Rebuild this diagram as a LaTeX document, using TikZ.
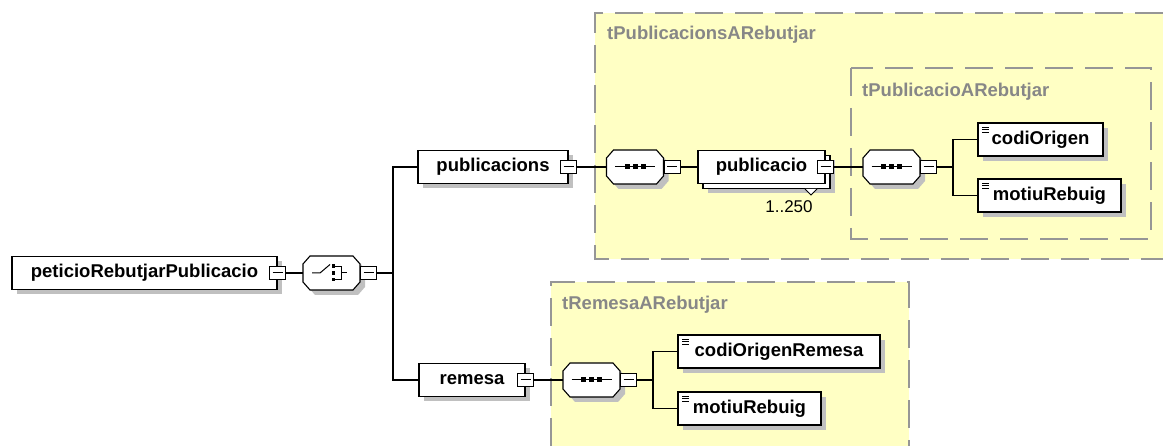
\documentclass[tikz,border=0pt]{standalone}
\usepackage{fontspec}
\setmainfont{Liberation Sans}
\usetikzlibrary{shadows}

\definecolor{regionfill}{RGB}{255,255,196}
\definecolor{regionline}{RGB}{150,150,150}
\definecolor{shadowgray}{RGB}{192,192,192}
\definecolor{titlegray}{RGB}{135,135,135}
\newcommand\elemfont{\bfseries\fontsize{18.5}{22}\selectfont}
% octagon outline of a compositor, with its shadow
\newcommand\compshape[2]{%
  \fill[shadowgray,shift={(#1+5,#2+5)}] (-21.5,-17) -- (21.5,-17) -- (28.5,-9) -- (28.5,9) -- (21.5,17) -- (-21.5,17) -- (-28.5,9) -- (-28.5,-9) -- cycle;
  \filldraw[fill=white,line width=1.1pt,shift={(#1,#2)}] (-21.5,-17) -- (21.5,-17) -- (28.5,-9) -- (28.5,9) -- (21.5,17) -- (-21.5,17) -- (-28.5,9) -- (-28.5,-9) -- cycle;}

\tikzset{
  link/.style={line width=1.1pt},
  region/.style={draw=regionline,line width=1.6pt,dash pattern=on 28pt off 12pt},
  title/.style={anchor=west,inner sep=0pt,text=titlegray,font=\elemfont},
  elembase/.style={draw=black,fill=white,line width=1.1pt,minimum height=33pt,inner sep=0pt,font=\elemfont},
  elem/.style={elembase,copy shadow={shadow xshift=5pt,shadow yshift=-5pt,fill=shadowgray,draw=none}},
  multielem/.style={elembase,
    copy shadow={shadow xshift=10pt,shadow yshift=-10pt,fill=shadowgray,draw=none},
    copy shadow={shadow xshift=5pt,shadow yshift=-5pt,fill=white,draw=black,line width=1.1pt}},
  simple/.style={elem,path picture={
    \foreach \k in {4,6.5,9}
      \draw[black,line width=0.8pt] ([shift={(4pt,-\k pt)}]path picture bounding box.north west) -- ++(7pt,0pt);}},
  minus/.style={draw=black,fill=white,line width=1pt,minimum width=16pt,minimum height=13pt,inner sep=0pt,
    path picture={\draw[black,line width=1pt] ([xshift=3pt]path picture bounding box.west) -- ([xshift=-3pt]path picture bounding box.east);}},
  comp/.style={minimum width=57pt,minimum height=34pt,inner sep=0pt},
  seq/.style={comp,path picture={
    \draw[black,line width=1pt] ([xshift=-20pt]path picture bounding box.center) -- ([xshift=20pt]path picture bounding box.center);
    \foreach \dx in {-10.5,-2.5,5.5}
      \fill[black] ([shift={(\dx pt,-2.5pt)}]path picture bounding box.center) rectangle ++(5pt,5pt);}},
  choice/.style={comp,path picture={
    \draw[black,line width=1pt] ([shift={(-19.5pt,0pt)}]path picture bounding box.center) -- ++(8pt,0pt) -- ++(10pt,8.5pt);
    \foreach \dy in {5,-1.75,-8.5}
      \fill[black] ([shift={(0pt,\dy pt)}]path picture bounding box.center) rectangle ++(3.5pt,3.5pt);
    \draw[black,line width=1pt] ([shift={(3.5pt,6.8pt)}]path picture bounding box.center) -- ++(6.5pt,0pt) -- ++(0pt,-13.6pt) -- ++(-6.5pt,0pt);
    \draw[black,line width=1pt] ([shift={(10pt,0pt)}]path picture bounding box.center) -- ++(5.5pt,0pt);}},
  occ/.style={inner sep=0pt,font=\fontsize{17}{20}\selectfont}
}

\begin{document}
\begin{tikzpicture}[x=1pt,y=-1pt]
\useasboundingbox (0,0) rectangle (1163,446);

\fill[regionfill] (595,13) rectangle (1163,259);
\draw[region] (1163,13) -- (595,13) -- (595,259) -- (1163,259);
\draw[region,fill=regionfill] (851,68) rectangle (1151,239);
\fill[regionfill] (551,282) rectangle (909,446);
\draw[region] (551,446) -- (551,282) -- (909,282) -- (909,446);

\node[title] (tpubs) at (607,35) {tPublicacionsARebutjar};
\node[title] (tpub) at (862,92) {tPublicacioARebutjar};
\node[title] (trem) at (562,305) {tRemesaARebutjar};

\node[elem,minimum width=265pt] (root) at (144.5,273) {peticioRebutjarPublicacio};
\node[minus] (mroot) at (root.east) {};
\compshape{331.5}{273}
\node[choice] (ch) at (331.5,273) {};
\node[minus,anchor=west] (mch) at (ch.east) {};
\coordinate (bus1) at (393,273);

\node[elem,minimum width=150pt] (pubs) at (493,167) {publicacions};
\node[minus] (mpubs) at (pubs.east) {};
\compshape{635}{167}
\node[seq] (seq1) at (635,167) {};
\node[minus,anchor=west] (mseq1) at (seq1.east) {};
\node[multielem,minimum width=127pt] (pub) at (761.5,167) {publicacio};
\node[minus] (mpub) at (pub.east) {};
\filldraw[fill=white,line width=0.8pt] (805,189) -- (811,195) -- (817,189);
\node[occ] (occpub) at (789,207) {1..250};
\compshape{891.5}{167}
\node[seq] (seq2) at (891.5,167) {};
\node[minus,anchor=west] (mseq2) at (seq2.east) {};
\coordinate (bus2) at (953,167);
\node[simple,minimum width=125pt] (codi) at (1040.5,139.5) {codiOrigen};
\node[simple,minimum width=143pt] (motiu) at (1049.5,195.5) {motiuRebuig};

\node[elem,minimum width=106pt] (rem) at (472,380) {remesa};
\node[minus] (mrem) at (rem.east) {};
\compshape{591.5}{380}
\node[seq] (seq3) at (591.5,380) {};
\node[minus,anchor=west] (mseq3) at (seq3.east) {};
\coordinate (bus3) at (653,380);
\node[simple,minimum width=202pt] (codirem) at (779,351.5) {codiOrigenRemesa};
\node[simple,minimum width=143pt] (motiurem) at (749.5,408.5) {motiuRebuig};

\draw[link] (mroot.east) -- (ch.west);
\draw[link] (mch.east) -- (bus1);
\draw[link] (bus1) |- (pubs.west);
\draw[link] (bus1) |- (rem.west);
\draw[link] (mpubs.east) -- (seq1.west);
\draw[link] (mseq1.east) -- (pub.west);
\draw[link] (mpub.east) -- (seq2.west);
\draw[link] (mseq2.east) -- (bus2);
\draw[link] (bus2) |- (codi.west);
\draw[link] (bus2) |- (motiu.west);
\draw[link] (mrem.east) -- (seq3.west);
\draw[link] (mseq3.east) -- (bus3);
\draw[link] (bus3) |- (codirem.west);
\draw[link] (bus3) |- (motiurem.west);

\end{tikzpicture}
\end{document}
